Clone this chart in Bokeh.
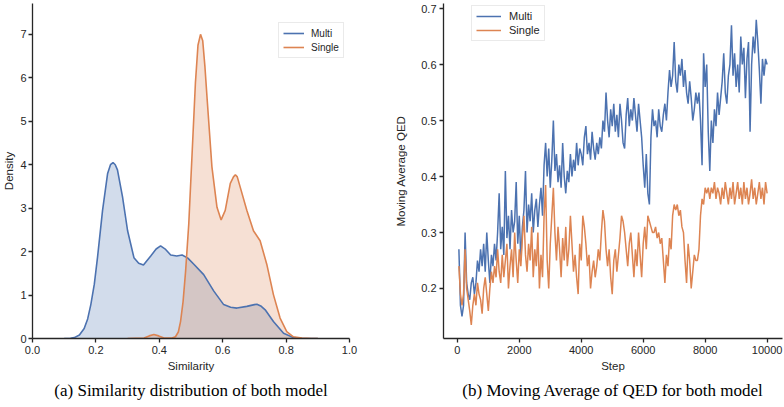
from bokeh.plotting import figure
from bokeh.layouts import row
from bokeh.models import Range1d, Title, FixedTicker, NumeralTickFormatter
from bokeh.embed import file_html
from bokeh.resources import INLINE

BLUE = "#4c72b0"
ORANGE = "#dd8452"
TXT = "#262626"

# ---------------- (a) KDE of similarity ----------------
multi_sim = [0.10, 0.12, 0.132, 0.148, 0.163, 0.174, 0.184, 0.195, 0.205, 0.221, 0.237, 0.246, 0.254, 0.261,
             0.268, 0.284, 0.300, 0.320, 0.335, 0.350, 0.373, 0.390, 0.404, 0.420, 0.436, 0.455, 0.472,
             0.490, 0.509, 0.540, 0.572, 0.603, 0.625, 0.645, 0.676, 0.700, 0.708, 0.720, 0.734, 0.760,
             0.792, 0.823, 0.850, 0.900]
multi_density = [0.0, 0.004, 0.02, 0.08, 0.23, 0.45, 0.78, 1.25, 1.86, 2.95, 3.80, 4.00, 4.05, 4.00,
                 3.88, 3.26, 2.48, 1.86, 1.73, 1.69, 1.90, 2.06, 2.13, 2.05, 1.92, 1.90, 1.92,
                 1.85, 1.71, 1.47, 1.09, 0.78, 0.72, 0.70, 0.74, 0.78, 0.79, 0.75, 0.66, 0.39,
                 0.12, 0.02, 0.0, 0.0]

single_sim = [0.30, 0.352, 0.368, 0.383, 0.398, 0.415, 0.440, 0.451, 0.460, 0.467, 0.475, 0.483, 0.493,
              0.504, 0.514, 0.522, 0.530, 0.537, 0.544, 0.551, 0.566, 0.582, 0.595, 0.608, 0.624,
              0.634, 0.640, 0.646, 0.655, 0.676, 0.697, 0.718, 0.739, 0.760, 0.781, 0.802, 0.823,
              0.850, 0.880, 0.900]
single_density = [0.0, 0.01, 0.06, 0.09, 0.06, 0.01, 0.01, 0.04, 0.15, 0.39, 0.85, 1.55, 2.64,
                  4.34, 5.89, 6.75, 7.00, 6.85, 6.25, 5.50, 3.95, 3.02, 2.73, 2.95, 3.57,
                  3.72, 3.77, 3.72, 3.49, 2.95, 2.48, 2.25, 1.71, 1.01, 0.47, 0.16, 0.04,
                  0.01, 0.0, 0.0]

# ---------------- (b) moving average of QED ----------------
steps = list(range(50, 10001, 50))

multi_qed = [
    0.27, 0.17, 0.15, 0.17, 0.30, 0.21, 0.19, 0.18, 0.21, 0.22, 0.19, 0.21, 0.25, 0.23, 0.27, 0.24, 0.28, 0.23, 0.30, 0.25,
    0.21, 0.26, 0.24, 0.28, 0.25, 0.30, 0.37, 0.27, 0.31, 0.26, 0.41, 0.29, 0.33, 0.27, 0.34, 0.30, 0.32, 0.39, 0.28, 0.33,
    0.25, 0.31, 0.34, 0.41, 0.30, 0.35, 0.32, 0.37, 0.30, 0.34, 0.36, 0.31, 0.35, 0.38, 0.33, 0.42, 0.46, 0.40, 0.45, 0.38,
    0.43, 0.50, 0.41, 0.44, 0.39, 0.42, 0.38, 0.46, 0.40, 0.37, 0.41, 0.39, 0.44, 0.40, 0.43, 0.41, 0.46, 0.42, 0.45, 0.44,
    0.42, 0.47, 0.49, 0.44, 0.46, 0.43, 0.48, 0.45, 0.43, 0.46, 0.44, 0.47, 0.45, 0.50, 0.48, 0.55, 0.50, 0.47, 0.52, 0.49,
    0.53, 0.48, 0.51, 0.47, 0.53, 0.50, 0.46, 0.45, 0.51, 0.54, 0.49, 0.52, 0.50, 0.54, 0.51, 0.48, 0.53, 0.50, 0.47, 0.42,
    0.38, 0.44, 0.37, 0.35, 0.47, 0.52, 0.49, 0.50, 0.47, 0.52, 0.49, 0.48, 0.51, 0.53, 0.50, 0.55, 0.59, 0.56, 0.58, 0.64,
    0.57, 0.55, 0.60, 0.58, 0.61, 0.56, 0.59, 0.55, 0.53, 0.57, 0.54, 0.50, 0.52, 0.55, 0.53, 0.55, 0.50, 0.42, 0.62, 0.56,
    0.60, 0.48, 0.41, 0.50, 0.46, 0.52, 0.49, 0.55, 0.51, 0.54, 0.57, 0.62, 0.55, 0.53, 0.58, 0.60, 0.67, 0.58, 0.62, 0.56,
    0.60, 0.55, 0.65, 0.60, 0.63, 0.54, 0.61, 0.64, 0.48, 0.60, 0.65, 0.62, 0.68, 0.64, 0.59, 0.53, 0.61, 0.58, 0.61, 0.60,
]

single_qed = [
    0.24, 0.19, 0.17, 0.19, 0.27, 0.20, 0.18, 0.16, 0.135, 0.17, 0.19, 0.17, 0.21, 0.19, 0.18, 0.155, 0.20, 0.22, 0.19, 0.16,
    0.20, 0.23, 0.21, 0.24, 0.22, 0.27, 0.23, 0.21, 0.26, 0.22, 0.25, 0.28, 0.20, 0.24, 0.27, 0.22, 0.30, 0.25, 0.21, 0.27,
    0.24, 0.29, 0.33, 0.26, 0.23, 0.28, 0.25, 0.31, 0.22, 0.27, 0.24, 0.30, 0.20, 0.26, 0.22, 0.33, 0.385, 0.25, 0.20, 0.28,
    0.33, 0.38, 0.30, 0.25, 0.31, 0.27, 0.22, 0.29, 0.25, 0.31, 0.24, 0.27, 0.33, 0.28, 0.23, 0.26, 0.22, 0.19, 0.28, 0.25,
    0.33, 0.31, 0.28, 0.24, 0.26, 0.20, 0.23, 0.25, 0.22, 0.24, 0.27, 0.25, 0.30, 0.34, 0.32, 0.27, 0.24, 0.27, 0.22, 0.19,
    0.25, 0.27, 0.23, 0.26, 0.29, 0.33, 0.32, 0.30, 0.27, 0.24, 0.28, 0.30, 0.26, 0.22, 0.27, 0.24, 0.30, 0.26, 0.22, 0.28,
    0.31, 0.27, 0.33, 0.32, 0.31, 0.30, 0.30, 0.31, 0.29, 0.30, 0.28, 0.29, 0.25, 0.21, 0.26, 0.24, 0.29, 0.27, 0.33, 0.35,
    0.34, 0.35, 0.33, 0.34, 0.31, 0.30, 0.25, 0.21, 0.28, 0.25, 0.20, 0.23, 0.26, 0.25, 0.25, 0.27, 0.33, 0.36, 0.35, 0.38,
    0.37, 0.38, 0.36, 0.38, 0.37, 0.39, 0.36, 0.38, 0.37, 0.35, 0.38, 0.36, 0.39, 0.37, 0.35, 0.38, 0.36, 0.39, 0.35, 0.37,
    0.39, 0.36, 0.38, 0.35, 0.39, 0.36, 0.38, 0.35, 0.37, 0.395, 0.36, 0.38, 0.35, 0.37, 0.39, 0.36, 0.38, 0.35, 0.39, 0.37,
]

sim_ticks = [0.0, 0.2, 0.4, 0.6, 0.8, 1.0]
density_ticks = [0, 1, 2, 3, 4, 5, 6, 7]
step_ticks = [0, 2000, 4000, 6000, 8000, 10000]
qed_ticks = [0.2, 0.3, 0.4, 0.5, 0.6, 0.7]

H = 406
TOP = 3
BOTTOM = 68


def style(p):
    p.outline_line_color = None
    p.xgrid.visible = False
    p.ygrid.visible = False
    p.background_fill_color = "white"
    p.border_fill_color = "white"
    for ax in (p.xaxis[0], p.yaxis[0]):
        ax.axis_line_color = TXT
        ax.axis_line_width = 1.3
        ax.major_tick_line_color = TXT
        ax.major_tick_line_width = 1.3
        ax.major_tick_out = 4
        ax.major_tick_in = 0
        ax.minor_tick_line_color = None
        ax.major_label_text_font = "Liberation Sans"
        ax.major_label_text_font_size = "11px"
        ax.major_label_text_color = TXT
        ax.major_label_standoff = 3
        ax.axis_label_text_font = "Liberation Sans"
        ax.axis_label_text_font_size = "11.5px"
        ax.axis_label_text_font_style = "normal"
        ax.axis_label_text_color = TXT
        ax.axis_label_standoff = 3


def style_legend(p, font, glyph_w, standoff):
    lg = p.legend[0]
    lg.label_text_font = "Liberation Sans"
    lg.label_text_font_size = font
    lg.label_text_color = TXT
    lg.glyph_width = glyph_w
    lg.glyph_height = 12
    lg.label_height = 12
    lg.label_standoff = standoff
    lg.spacing = 2
    lg.padding = 4
    lg.border_line_color = "#d5d5d5"
    lg.background_fill_alpha = 0.9


def caption(p, text):
    p.add_layout(Title(text=text, align="center", text_font="Liberation Serif",
                       text_font_size="17px", text_font_style="normal",
                       text_color="black", standoff=9), "below")


# ---- figure (a)
p1 = figure(width=392, height=H, output_backend="svg", toolbar_location=None,
            x_range=Range1d(0, 1), y_range=Range1d(0, 7.71),
            min_border_left=32, min_border_right=43, min_border_top=TOP, min_border_bottom=BOTTOM)
p1.varea(x=multi_sim, y1=0, y2=multi_density, fill_color=BLUE, fill_alpha=0.25)
p1.varea(x=single_sim, y1=0, y2=single_density, fill_color=ORANGE, fill_alpha=0.25)
p1.line(multi_sim, multi_density, line_color=BLUE, line_width=1.6, legend_label="Multi")
p1.line(single_sim, single_density, line_color=ORANGE, line_width=1.6, legend_label="Single")
style(p1)
p1.yaxis.major_label_standoff = 2
p1.yaxis.axis_label_standoff = 2
p1.xaxis.ticker = FixedTicker(ticks=sim_ticks)
p1.xaxis.formatter = NumeralTickFormatter(format="0.0")
p1.yaxis.ticker = FixedTicker(ticks=density_ticks)
p1.xaxis.axis_label = "Similarity"
p1.yaxis.axis_label = "Density"
p1.legend.location = (246, 280)
style_legend(p1, "10px", 21, 7)
caption(p1, "(a) Similarity distribution of both model")

# ---- figure (b)
p2 = figure(width=392, height=H, output_backend="svg", toolbar_location=None,
            x_range=Range1d(-447, 10497), y_range=Range1d(0.1107, 0.709),
            min_border_left=51, min_border_right=2, min_border_top=TOP, min_border_bottom=BOTTOM)
p2.line(steps, multi_qed, line_color=BLUE, line_width=1.5, legend_label="Multi")
p2.line(steps, single_qed, line_color=ORANGE, line_width=1.5, legend_label="Single")
style(p2)
p2.xaxis.ticker = FixedTicker(ticks=step_ticks)
p2.yaxis.ticker = FixedTicker(ticks=qed_ticks)
p2.yaxis.formatter = NumeralTickFormatter(format="0.0")
p2.xaxis.axis_label = "Step"
p2.yaxis.axis_label = "Moving Average QED"
p2.yaxis.axis_label_standoff = 11
p2.legend.location = (28, 297)
style_legend(p2, "11px", 25, 8)
caption(p2, "(b) Moving Average of QED for both model")

layout = row(p1, p2)
open("out.html", "w").write(file_html(layout, INLINE))
